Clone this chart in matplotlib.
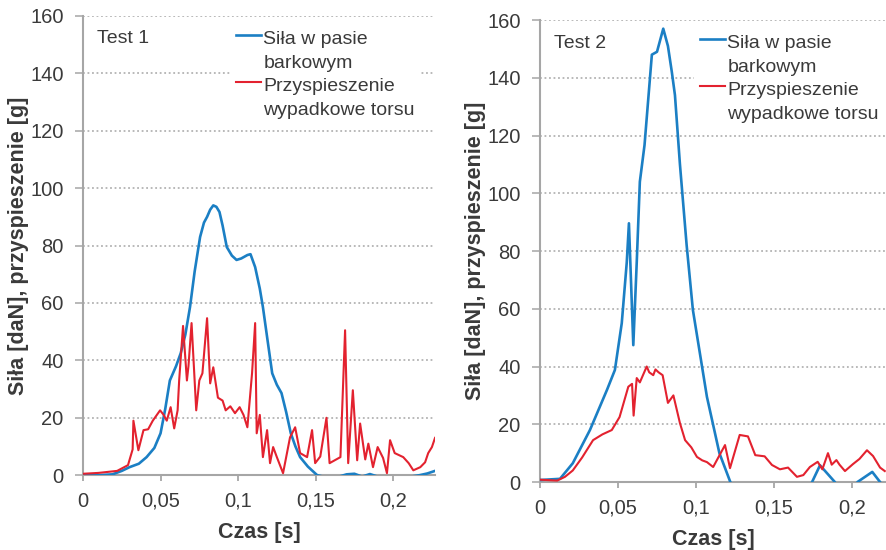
import matplotlib
matplotlib.use("Agg")
import matplotlib.pyplot as plt
from matplotlib.legend_handler import HandlerLine2D

plt.rcParams['font.family'] = ['Liberation Sans', 'DejaVu Sans']

# Test 1
t1_force = [0, 0.010, 0.019, 0.025, 0.030, 0.036, 0.041, 0.046, 0.050, 0.053, 0.056, 0.060,
            0.063, 0.066, 0.069, 0.072, 0.0755, 0.078, 0.080, 0.082, 0.084, 0.086, 0.088,
            0.090, 0.0927, 0.096, 0.099, 0.102, 0.106, 0.108, 0.111, 0.114, 0.116, 0.119,
            0.122, 0.125, 0.128, 0.131, 0.134, 0.137, 0.140, 0.145, 0.151, 0.155, 0.160,
            0.165, 0.170, 0.175, 0.180, 0.185, 0.190, 0.195, 0.200, 0.205, 0.210, 0.217,
            0.222, 0.227]
force1 = [0, 0, 0.3, 1.5, 2.8, 4, 6.3, 9.5, 14.6, 23, 33, 38, 42.5, 49, 58.6, 71, 83, 88, 90,
          92.5, 94, 93.5, 91.7, 87, 79.5, 76.5, 75, 75.5, 76.7, 77, 72.5, 65, 58.6, 47, 35.5,
          31.5, 28.6, 22, 14.6, 10, 6.3, 3, 0, -0.5, -1, -0.5, 0.3, 0.5, -0.5, 0.4, -0.5, -1,
          -1.2, -1, -0.6, 0, 0.6, 1.5]

t1_acc = [0, 0.010, 0.022, 0.029, 0.032, 0.0325, 0.0357, 0.039, 0.042, 0.045, 0.0497, 0.052,
          0.054, 0.0565, 0.0588, 0.061, 0.062, 0.0645, 0.067, 0.068, 0.070, 0.073, 0.075,
          0.077, 0.080, 0.082, 0.084, 0.087, 0.090, 0.092, 0.095, 0.098, 0.101, 0.1035, 0.106,
          0.109, 0.111, 0.112, 0.114, 0.116, 0.1187, 0.1206, 0.1226, 0.125, 0.129, 0.1335,
          0.1368, 0.140, 0.1445, 0.1477, 0.1497, 0.153, 0.157, 0.159, 0.166, 0.169, 0.171,
          0.174, 0.1768, 0.1787, 0.182, 0.184, 0.187, 0.190, 0.1935, 0.196, 0.198, 0.201,
          0.2065, 0.210, 0.213, 0.2175, 0.2206, 0.2226, 0.225, 0.227]
acc1 = [0.5, 0.8, 1.5, 3.5, 9, 19, 8.7, 15.7, 16, 19, 22.6, 21, 19, 23.7, 16.3, 22.6, 33, 52,
        33, 38, 53, 22.6, 33, 35.5, 54.7, 32, 37.6, 27, 26, 22.6, 24, 21.6, 23.7, 21, 16.7,
        35.5, 53, 14.6, 21, 6.3, 15.7, 4.2, 9.8, 6.3, 0.7, 13.2, 16.7, 7.7, 6.3, 15.7, 4.2,
        6.5, 20, 4.2, 6.3, 50.5, 4.2, 29.6, 5.2, 18, 5.5, 11, 2.8, 9.8, 6, 0.7, 12.2, 7.7,
        6.3, 4.2, 1.7, 2.8, 4.5, 7.7, 9.8, 13]

# Test 2
t2_force = [0, 0.0128, 0.021, 0.032, 0.043, 0.048, 0.0524, 0.0556, 0.057, 0.0598, 0.062,
            0.064, 0.067, 0.0717, 0.075, 0.079, 0.082, 0.0845, 0.0865, 0.0897, 0.094, 0.098,
            0.107, 0.115, 0.122, 0.128, 0.140, 0.160, 0.170, 0.1795, 0.189, 0.195, 0.200,
            0.2035, 0.213, 0.218, 0.222]
force2 = [0.7, 1.1, 6.5, 18, 32, 38.8, 55, 76, 89.6, 47.4, 76, 104, 116.7, 148, 149, 157, 151,
          142, 134, 110, 82, 59.6, 29.5, 10, 0, -5, -8, -8, -5, 5.8, 0, -5, -5, 0, 3.5, 0, -3]

t2_acc = [0, 0.011, 0.016, 0.021, 0.027, 0.034, 0.040, 0.046, 0.051, 0.0566, 0.059, 0.060,
          0.062, 0.064, 0.066, 0.0684, 0.070, 0.0726, 0.074, 0.076, 0.0786, 0.082, 0.0855,
          0.0897, 0.093, 0.097, 0.1006, 0.104, 0.107, 0.111, 0.1186, 0.1218, 0.128, 0.1333,
          0.138, 0.144, 0.1487, 0.1538, 0.159, 0.1647, 0.1688, 0.173, 0.178, 0.181, 0.1846,
          0.187, 0.190, 0.192, 0.1955, 0.2006, 0.2048, 0.2096, 0.2135, 0.218, 0.221]
acc2 = [0.8, 0.5, 1.8, 4, 8.5, 14.5, 16.5, 18, 22.5, 33, 34, 23, 36, 34.5, 37, 40, 38, 37,
        39, 38, 37, 27.4, 30, 20.4, 14.5, 12, 8.7, 7.5, 6.9, 5.2, 12.8, 4.8, 16.3, 15.8, 9.3,
        8.9, 5.9, 4.4, 5, 1.8, 2.4, 5.2, 7, 4.4, 10, 6, 7.6, 6, 3.8, 6.2, 8, 11, 9, 5, 3.8]

tests = ["Test 1", "Test 2"]
labels = ["Siła w pasie\nbarkowym", "Przyspieszenie\nwypadkowe torsu"]
yticks = [0, 20, 40, 60, 80, 100, 120, 140, 160]
xticks = [0, 0.05, 0.1, 0.15, 0.2]
xticklabels = ["0", "0,05", "0,1", "0,15", "0,2"]

BLUE = "#1b7fc4"
RED = "#e3222f"
TXT = "#3a3a3a"
GRAY = "#a6a6a6"


class TopLine(HandlerLine2D):
    # put the legend line next to the first text line
    def create_artists(self, legend, orig_handle, xdescent, ydescent, width, height, fontsize, trans):
        return super().create_artists(legend, orig_handle, xdescent, ydescent - 1.65 * fontsize,
                                      width, height, fontsize, trans)


fig = plt.figure(figsize=(8.86, 5.5), dpi=100)
ax1 = fig.add_axes([0.0937, 0.136, 0.3973, 0.835])
ax2 = fig.add_axes([0.6095, 0.1236, 0.3905, 0.840])

setups = [(ax1, t1_force, force1, t1_acc, acc1, 0.227, 0.418),
          (ax2, t2_force, force2, t2_acc, acc2, 0.2218, 0.446)]

for i, (ax, tf, f, ta, a, xmax, legx) in enumerate(setups):
    l1, = ax.plot(tf, f, color=BLUE, lw=1.9, zorder=3)
    l2, = ax.plot(ta, a, color=RED, lw=1.5, zorder=3)
    ax.set_xlim(0, xmax)
    ax.set_ylim(0, 160)
    ax.set_yticks(yticks)
    ax.set_xticks(xticks)
    ax.set_xticklabels(xticklabels)
    ax.grid(axis='y', color="#b3b3b3", linestyle=(0, (1, 1.5)), lw=1.3)
    ax.set_axisbelow(True)
    for s in ['top', 'right']:
        ax.spines[s].set_visible(False)
    for s in ['left', 'bottom']:
        ax.spines[s].set_color(GRAY)
        ax.spines[s].set_linewidth(1.5)
    ax.tick_params(axis='y', length=6, width=1.3, color="#b3b3b3", labelsize=14.5,
                   labelcolor=TXT, pad=8)
    ax.tick_params(axis='x', length=4, width=1.3, color=GRAY, labelsize=14.5,
                   labelcolor=TXT, pad=8)
    ax.set_xlabel("Czas [s]", fontsize=15.5, fontweight='bold', color=TXT, labelpad=8)
    ax.set_ylabel("Siła [daN], przyspieszenie [g]", fontsize=15.5, fontweight='bold',
                  color=TXT, labelpad=1)
    ax.text(0.04, 0.95, tests[i], transform=ax.transAxes, fontsize=14, color=TXT,
            va='center', ha='left')
    leg = ax.legend([l1, l2], labels, loc='upper left', bbox_to_anchor=(legx, 0.98),
                    fontsize=14, handlelength=1.3, handletextpad=0.1, labelspacing=0.3,
                    borderpad=0.3, borderaxespad=0, frameon=True, fancybox=False,
                    framealpha=1, edgecolor='none', facecolor='white',
                    handler_map={plt.Line2D: TopLine()})
    for t in leg.get_texts():
        t.set_color(TXT)
        t.set_linespacing(1.55)

fig.savefig("out.png", dpi=100)
